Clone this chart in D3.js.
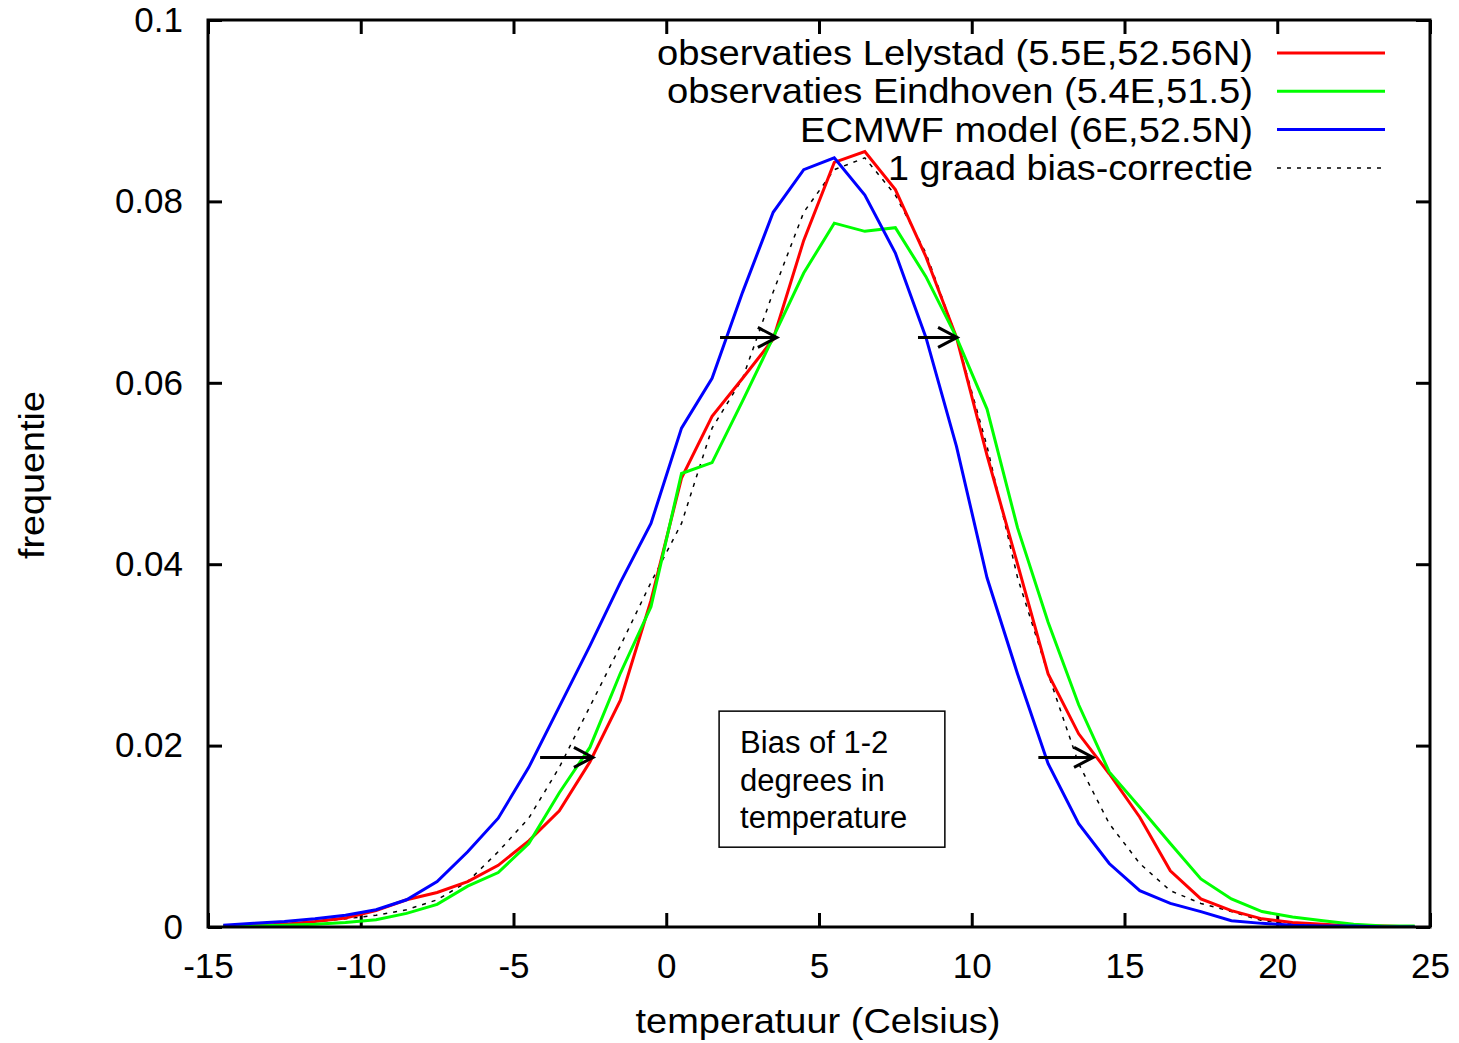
<!DOCTYPE html>
<html lang="nl">
<head>
<meta charset="utf-8">
<title>frequentie temperatuur</title>
<script src="https://cdn.jsdelivr.net/npm/d3@7/dist/d3.min.js"></script>
<style>
  body { margin: 0; background: #fff; }
  text { font-family: "Liberation Sans", Arial, sans-serif; fill: #000; }
</style>
</head>
<body>
<svg width="1459" height="1043"></svg>
<script>
// bin centres (graden Celsius)
var temps = [-14.5,-13.5,-12.5,-11.5,-10.5,-9.5,-8.5,-7.5,-6.5,-5.5,-4.5,-3.5,-2.5,-1.5,-0.5,
             0.5,1.5,2.5,3.5,4.5,5.5,6.5,7.5,8.5,9.5,10.5,11.5,12.5,13.5,14.5,
             15.5,16.5,17.5,18.5,19.5,20.5,21.5,22.5,23.5,24.5];

var lelystad = [0.0001,0.0002,0.0003,0.0006,0.0010,0.0018,0.0030,0.0038,0.0050,0.0068,
                0.0095,0.0128,0.0182,0.0250,0.0360,0.0495,0.0563,0.0605,0.0648,0.0757,
                0.0843,0.0855,0.0813,0.0739,0.0650,0.0520,0.0400,0.0279,0.0213,0.0169,
                0.0121,0.0062,0.0031,0.0018,0.0009,0.0005,0.0003,0.0001,0.0001,0.0000];

var eindhoven = [0.0001,0.0001,0.0002,0.0003,0.0005,0.0008,0.0015,0.0025,0.0045,0.0060,
                 0.0092,0.0148,0.0198,0.0280,0.0353,0.0500,0.0512,0.0580,0.0650,0.0721,
                 0.0776,0.0767,0.0771,0.0717,0.0650,0.0571,0.0440,0.0336,0.0245,0.0171,
                 0.0132,0.0092,0.0053,0.0031,0.0017,0.0011,0.0007,0.0003,0.0001,0.0001];

var ecmwf = [0.0002,0.0004,0.0006,0.0009,0.0013,0.0019,0.0030,0.0050,0.0083,0.0120,
             0.0176,0.0243,0.0310,0.0380,0.0445,0.0550,0.0605,0.0700,0.0788,0.0835,
             0.0848,0.0807,0.0743,0.0650,0.0530,0.0385,0.0279,0.0180,0.0114,0.0070,
             0.0040,0.0026,0.0017,0.0007,0.0004,0.0002,0.0001,0.0001,0.0000,0.0000];

// 1 graad bias-correctie
var biasTemps = [-13.5,-12.5,-11.5,-10.5,-9.5,-8.5,-7.5,-6.5,-5.5,-4.5,-3.5,-2.5,-1.5,-0.5,
                 0.5,1.5,2.5,3.5,4.5,5.5,6.5,7.5,8.5,9.5,10.5,11.5,12.5,13.5,14.5,
                 15.5,16.5,17.5,18.5,19.5,20.5,21.5,22.5,23.5,24.5];
var biasCorr = [0.0002,0.0004,0.0006,0.0009,0.0013,0.0019,0.0030,0.0050,0.0083,0.0120,
                0.0176,0.0243,0.0310,0.0380,0.0445,0.0550,0.0605,0.0700,0.0788,0.0835,
                0.0848,0.0807,0.0743,0.0650,0.0530,0.0385,0.0279,0.0180,0.0114,0.0070,
                0.0040,0.0026,0.0017,0.0007,0.0004,0.0002,0.0001,0.0001,0.0000];

var seriesNames = ["observaties Lelystad (5.5E,52.56N)", "observaties Eindhoven (5.4E,51.5)",
                   "ECMWF model (6E,52.5N)", "1 graad bias-correctie"];

var xTicks = [-15,-10,-5,0,5,10,15,20,25];
var xTickLabels = ["-15","-10","-5","0","5","10","15","20","25"];
var yTicks = [0,0.02,0.04,0.06,0.08,0.1];
var yTickLabels = ["0","0.02","0.04","0.06","0.08","0.1"];

// pijlen: [van, naar, frequentie]
var arrows = [[1.76,3.62,0.065],[8.24,9.52,0.065],[-4.13,-2.40,0.0187],[12.18,13.97,0.0187]];
var noteLines = ["Bias of 1-2","degrees in","temperature"];
var noteBox = [1.73,9.12,0.0238,0.0088];
</script>
<script>
var svg = d3.select("svg");
var pLeft = 208, pRight = 1430, pTop = 20, pBottom = 927;

var scaleX = d3.scaleLinear().domain([-15,25]).range([pLeft,pRight]);
var scaleY = d3.scaleLinear().domain([0,0.1]).range([pBottom,pTop]);

svg.append("defs").append("clipPath").attr("id","plotclip")
   .append("rect").attr("x",pLeft).attr("y",pTop).attr("width",pRight-pLeft).attr("height",pBottom-pTop);

// assen
var axB = d3.axisBottom(scaleX).tickValues(xTicks).tickSizeInner(-14).tickSizeOuter(0).tickPadding(26)
            .tickFormat(function(d,i){ return xTickLabels[i]; });
var axL = d3.axisLeft(scaleY).tickValues(yTicks).tickSizeInner(-14).tickSizeOuter(0).tickPadding(25)
            .tickFormat(function(d,i){ return yTickLabels[i]; });
var axT = d3.axisTop(scaleX).tickValues(xTicks).tickSizeInner(-14).tickSizeOuter(0).tickFormat("");
var axR = d3.axisRight(scaleY).tickValues(yTicks).tickSizeInner(-14).tickSizeOuter(0).tickFormat("");

function styleAxis(g) {
  g.select(".domain").remove();
  g.attr("font-family",null).attr("font-size",null);
  g.selectAll(".tick line").attr("stroke","#000").attr("stroke-width",3);
  g.selectAll(".tick text").attr("font-size",35).attr("fill","#000");
}
svg.append("g").attr("transform","translate(0,"+pBottom+")").call(axB).call(styleAxis);
svg.append("g").attr("transform","translate("+pLeft+",0)").call(axL).call(styleAxis);
svg.append("g").attr("transform","translate(0,"+pTop+")").call(axT).call(styleAxis);
svg.append("g").attr("transform","translate("+pRight+",0)").call(axR).call(styleAxis);

// lijnen
var line = d3.line().x(function(d){ return scaleX(d[0]); }).y(function(d){ return scaleY(d[1]); });
var curves = [
  {xs: temps, ys: lelystad, color: "#ff0000", width: 3, dash: null},
  {xs: temps, ys: eindhoven, color: "#00ff00", width: 3, dash: null},
  {xs: temps, ys: ecmwf, color: "#0000ff", width: 3, dash: null},
  {xs: biasTemps, ys: biasCorr, color: "#000", width: 1.5, dash: "4,6"}
];
var plot = svg.append("g").attr("clip-path","url(#plotclip)");
[3,0,1,2].forEach(function(k){
  var c = curves[k];
  plot.append("path")
    .datum(c.xs.map(function(x,i){ return [x, c.ys[i]]; }))
    .attr("fill","none").attr("stroke",c.color).attr("stroke-width",c.width)
    .attr("stroke-dasharray",c.dash)
    .attr("d",line);
});

// kader
svg.append("rect").attr("x",pLeft).attr("y",pTop).attr("width",pRight-pLeft).attr("height",pBottom-pTop)
   .attr("fill","none").attr("stroke","#000").attr("stroke-width",3);

// legenda
var legLen = [596,586,453,365];
var leg = svg.append("g");
seriesNames.forEach(function(name,i){
  var cy = 53 + i*38.3;
  leg.append("text").attr("x",1253).attr("y",cy+12).attr("text-anchor","end")
     .attr("font-size",35).attr("textLength",legLen[i]).attr("lengthAdjust","spacingAndGlyphs")
     .text(name);
  leg.append("line").attr("x1",1277).attr("x2",1385).attr("y1",cy).attr("y2",cy)
     .attr("stroke",curves[i].color).attr("stroke-width",curves[i].width)
     .attr("stroke-dasharray",curves[i].dash);
});

// pijlen
var ar = svg.append("g").attr("stroke","#000").attr("stroke-width",3).attr("fill","none");
arrows.forEach(function(a){
  var x0 = scaleX(a[0]), x1 = scaleX(a[1]), y = scaleY(a[2]);
  ar.append("line").attr("x1",x0).attr("x2",x1).attr("y1",y).attr("y2",y);
  ar.append("path").attr("d","M"+(x1-19)+","+(y-10)+"L"+x1+","+y+"L"+(x1-19)+","+(y+10));
});

// tekstvak
var bx0 = scaleX(noteBox[0]), bx1 = scaleX(noteBox[1]), by0 = scaleY(noteBox[2]), by1 = scaleY(noteBox[3]);
svg.append("rect").attr("x",bx0).attr("y",by0).attr("width",bx1-bx0).attr("height",by1-by0)
   .attr("fill","#fff").attr("stroke","#000").attr("stroke-width",1.5);
noteLines.forEach(function(t,i){
  svg.append("text").attr("x",bx0+21).attr("y",by0+42+i*37.5).attr("font-size",31).text(t);
});

// as-titels
svg.append("text").attr("x",818).attr("y",1033).attr("text-anchor","middle")
   .attr("font-size",35).attr("textLength",365).attr("lengthAdjust","spacingAndGlyphs")
   .text("temperatuur (Celsius)");
svg.append("text").attr("transform","translate(44,475) rotate(-90)").attr("text-anchor","middle")
   .attr("font-size",35).attr("textLength",168).attr("lengthAdjust","spacingAndGlyphs")
   .text("frequentie");
</script>
</body>
</html>
